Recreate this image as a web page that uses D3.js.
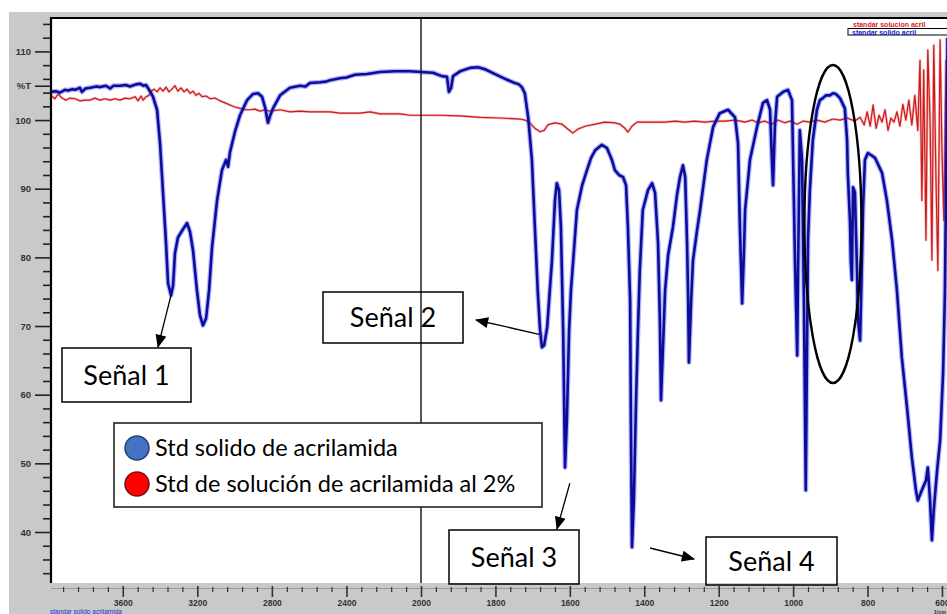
<!DOCTYPE html>
<html>
<head>
<meta charset="utf-8">
<script src="https://cdn.jsdelivr.net/npm/d3@7/dist/d3.min.js"></script>
<style>
  html, body { margin: 0; padding: 0; background: #fff; }
  svg { display: block; }
  .tick text { font-family: "Liberation Sans Narrow", "Liberation Sans", Arial, sans-serif; font-weight: bold; }
</style>
</head>
<body>
<svg id="chart" width="947" height="614"></svg>
<script>
// FTIR spectra: wavenumber (1/cm) against transmittance (%T)
const seriesNames = ["Std solido de acrilamida", "Std de solución de acrilamida al 2%"];
const seriesColors = ["#4472c4", "#ff0000"];

// Solid acrylamide standard: [wavenumber, %T]
const solidSpectrum = [
  [3985,104.1],[3960,104.2],[3937,104.0],[3910,104.4],[3894,104.3],[3870,104.5],[3856,104.4],
  [3830,104.7],[3819,104.1],[3800,104.6],[3776,104.7],[3740,104.9],[3722,104.8],[3690,105.0],
  [3668,104.6],[3650,105.0],[3615,105.0],[3583,105.1],[3561,104.9],[3529,105.2],[3508,105.3],
  [3490,105.0],[3475,105.1],[3454,104.2],[3438,103.4],[3416,101.5],[3400,96.6],[3384,89.4],
  [3368,82.1],[3357,76.2],[3341,74.5],[3330,75.9],[3320,80.6],[3304,82.9],[3277,84.1],
  [3255,85.0],[3239,83.7],[3223,81.0],[3202,75.2],[3186,71.6],[3170,70.1],[3153,71.1],
  [3137,75.2],[3121,81.5],[3094,88.3],[3068,92.7],[3046,94.2],[3035,93.2],[3025,95.3],
  [2998,98.3],[2971,100.7],[2933,102.9],[2901,103.8],[2874,103.9],[2853,103.4],[2837,101.9],
  [2821,99.6],[2810,100.6],[2794,101.7],[2756,103.6],[2703,104.7],[2649,105.0],[2620,104.9],
  [2596,105.4],[2542,105.5],[2510,105.6],[2488,105.8],[2435,106.1],[2400,106.2],[2354,106.6],
  [2290,106.7],[2220,107.0],[2139,107.1],[2059,107.1],[2000,107.0],[1968,106.9],[1944,106.4],
  [1930,106.3],[1925,104.1],[1919,104.7],[1914,106.4],[1895,107.1],[1868,107.6],[1847,107.7],
  [1828,107.4],[1801,106.7],[1774,106.0],[1753,105.5],[1737,105.2],[1729,104.8],[1721,103.9],
  [1712,100.4],[1702,94.2],[1694,84.4],[1686,74.8],[1680,69.4],[1675,66.9],[1669,67.2],
  [1661,69.8],[1648,79.6],[1640,88.3],[1635,90.8],[1629,89.8],[1624,84.4],[1618,69.4],
  [1613,49.4],[1608,56.3],[1602,69.4],[1597,75.2],[1589,81.0],[1581,86.9],[1567,90.5],
  [1554,92.7],[1543,94.5],[1532,95.6],[1514,96.4],[1500,95.9],[1487,94.2],[1479,92.7],
  [1468,92.0],[1457,91.7],[1449,90.5],[1444,84.4],[1438,73.8],[1436,56.3],[1433,37.8],
  [1428,44.6],[1422,59.2],[1417,69.4],[1412,78.1],[1404,86.9],[1390,89.8],[1379,90.8],
  [1371,89.4],[1363,82.1],[1358,70.8],[1355,59.2],[1350,66.5],[1344,75.2],[1336,80.3],
  [1323,84.4],[1312,89.1],[1304,91.7],[1296,93.4],[1290,91.7],[1285,82.1],[1282,73.8],
  [1280,64.7],[1274,73.8],[1269,79.6],[1258,84.0],[1250,86.9],[1232,94.2],[1215,99.0],
  [1197,101.0],[1175,101.5],[1156,100.4],[1148,96.6],[1143,84.4],[1137,73.3],[1132,81.0],
  [1129,86.9],[1116,94.2],[1097,99.0],[1081,102.5],[1070,102.9],[1062,101.5],[1057,94.2],
  [1054,90.5],[1049,99.0],[1043,103.4],[1027,104.1],[1014,104.4],[1003,102.9],[1000,94.2],
  [995,79.6],[989,65.7],[987,76.7],[982,98.5],[976,94.2],[971,73.8],[966,46.1],[960,82.5],
  [955,89.8],[947,97.1],[936,101.5],[928,102.9],[920,103.2],[912,103.6],[901,103.6],
  [893,103.9],[885,103.8],[874,103.2],[861,101.7],[855,97.1],[853,92.3],[847,85.0],
  [845,79.6],[842,76.7],[839,90.2],[834,89.5],[828,77.7],[826,71.1],[820,67.9],[815,79.6],
  [812,87.3],[807,94.2],[799,95.2],[788,94.8],[780,94.5],[761,92.3],[748,88.3],[734,82.5],
  [721,75.2],[708,65.5],[694,58.2],[681,50.9],[670,46.1],[665,44.6],[654,46.1],[643,47.5],
  [638,49.4],[632,44.6],[627,38.8],[622,43.2],[613,49.0],[605,53.3],[597,63.1],[592,75.0],
  [588,95.0],[585,112.0]
];

// 2 % acrylamide solution standard: [wavenumber, %T]
const solutionSpectrum = [
  [3985,103.6],[3964,103.1],[3947,103.8],[3926,103.2],[3905,102.9],[3883,103.2],[3856,103.1],
  [3829,102.8],[3803,102.9],[3776,102.9],[3749,103.2],[3722,102.9],[3695,103.1],[3668,102.9],
  [3642,103.1],[3615,102.9],[3588,103.2],[3561,103.1],[3534,103.4],[3518,102.8],[3502,103.5],
  [3491,102.9],[3475,103.4],[3459,103.6],[3448,104.2],[3432,104.5],[3416,104.1],[3400,104.7],
  [3384,104.2],[3368,104.8],[3352,104.1],[3336,104.5],[3320,105.0],[3304,104.2],[3288,104.7],
  [3271,104.1],[3255,104.5],[3239,103.9],[3223,104.2],[3207,103.6],[3191,103.9],[3175,103.4],
  [3153,103.5],[3132,103.1],[3105,103.2],[3078,102.8],[3051,102.5],[3025,102.2],[2998,101.9],
  [2971,101.7],[2944,101.5],[2917,101.5],[2891,101.6],[2864,101.3],[2837,101.5],[2810,101.3],
  [2756,101.5],[2703,101.2],[2649,101.3],[2596,101.2],[2542,101.2],[2488,101.2],[2435,101.0],
  [2381,101.0],[2327,101.0],[2274,101.2],[2220,100.9],[2166,100.9],[2113,100.9],[2059,100.7],
  [2005,100.7],[1949,100.7],[1895,100.6],[1841,100.4],[1788,100.3],[1734,100.15],[1721,100.0],
  [1707,99.6],[1694,98.8],[1680,98.3],[1669,98.5],[1659,99.3],[1640,99.6],[1621,99.4],
  [1608,98.8],[1592,98.1],[1578,98.7],[1559,99.1],[1532,99.4],[1506,99.7],[1479,99.6],
  [1465,99.4],[1452,98.8],[1444,98.25],[1433,99.1],[1420,99.7],[1398,99.7],[1371,99.7],
  [1344,99.7],[1317,99.85],[1291,99.7],[1264,99.85],[1237,99.7],[1210,99.85],[1183,99.85],
  [1156,100.0],[1129,99.7],[1111,100.0],[1094,99.6],[1076,99.85],[1057,99.4],[1041,100.0],
  [1022,99.6],[1008,99.85],[989,99.4],[973,99.85],[955,99.7],[936,100.0],[915,99.7],
  [893,100.15],[874,100.0],[855,100.3],[834,99.85],[820,100.4],[809,99.3],[801,101.2],
  [793,99.1],[785,102.2],[777,98.8],[769,100.7],[761,99.7],[753,101.5],[745,98.5],[737,100.3],
  [729,99.7],[721,101.2],[713,99.1],[705,102.3],[697,100.0],[689,102.9],[681,99.3],[673,103.6],
  [665,98.5],[659,108.7],[654,88.3],[649,107.3],[643,82.5],[638,110.2],[632,100.0],[627,79.6],
  [622,110.9],[616,91.2],[611,78.1],[605,111.7],[600,95.6],[595,85.4],[589,108.7],[584,102.9]
];

const yTicks = [40, 50, 60, 70, 80, 90, 100, 110];
const yMinorTicks = d3.range(34, 115, 2).filter(v => v % 10 !== 0);
const yUnitLabel = "%T";
const yUnitAt = 105;
const xTicks = [3600, 3200, 2800, 2400, 2000, 1800, 1600, 1400, 1200, 1000, 800, 600];
const xMinorTicks = d3.range(3920, 2000, -80).concat(d3.range(1960, 580, -40))
  .filter(v => !xTicks.includes(v));
const signalLabels = ["Señal 1", "Señal 2", "Señal 3", "Señal 4"];

const svg = d3.select("#chart");
const W = 947, H = 614;
const plot = { left: 51, top: 18, right: 951, bottom: 583 };

// Wavenumber axis is expanded 2x below 2000 1/cm
const x = d3.scaleLinear().domain([3985, 2000, 580]).range([51, 421, 949.4]);
const y = d3.scaleLinear().domain([40, 110]).range([532, 51.4]);

// Grey instrument frame and white plotting area
svg.append("rect").attr("x", 0).attr("y", 0).attr("width", W).attr("height", H).attr("fill", "#fff");
svg.append("rect").attr("x", 9).attr("y", 12).attr("width", W - 9).attr("height", H - 12).attr("fill", "#c9c9c9");
svg.append("rect").attr("x", plot.left).attr("y", plot.top)
  .attr("width", plot.right - plot.left).attr("height", plot.bottom - plot.top).attr("fill", "#fff");

svg.append("defs").append("clipPath").attr("id", "plotClip")
  .append("rect").attr("x", plot.left).attr("y", plot.top)
  .attr("width", plot.right - plot.left).attr("height", plot.bottom - plot.top);

// Left axis (%T)
const yAxisG = svg.append("g").attr("transform", `translate(${plot.left},0)`);
yAxisG.call(d3.axisLeft(y).tickValues(yMinorTicks).tickSize(8).tickFormat(""))
  .call(g => g.select(".domain").remove())
  .call(g => g.selectAll("line").attr("stroke", "#222").attr("stroke-width", 1.6));
const yMajor = svg.append("g").attr("transform", `translate(${plot.left},0)`)
  .call(d3.axisLeft(y).tickValues(yTicks.concat([yUnitAt])).tickSize(16).tickPadding(4)
    .tickFormat(d => d === yUnitAt ? yUnitLabel : String(d)));
yMajor.select(".domain").remove();
yMajor.selectAll("line").attr("stroke", "#222").attr("stroke-width", 1.6);
yMajor.selectAll("text").attr("font-size", 9.5).attr("fill", "#333");

// Bottom axis (1/cm)
const xAxisY = 587;
svg.append("line").attr("x1", plot.left).attr("x2", W).attr("y1", xAxisY + 1.5).attr("y2", xAxisY + 1.5)
  .attr("stroke", "#9a9a9a").attr("stroke-width", 1);
const xMinor = svg.append("g").attr("transform", `translate(0,${xAxisY})`)
  .call(d3.axisBottom(x).tickValues(xMinorTicks).tickSize(5).tickFormat(""));
xMinor.select(".domain").remove();
xMinor.selectAll("line").attr("stroke", "#333").attr("stroke-width", 1.2);
const xMajor = svg.append("g").attr("transform", `translate(0,${xAxisY - 1})`)
  .call(d3.axisBottom(x).tickValues(xTicks).tickSize(11).tickPadding(3).tickFormat(d => String(d)));
xMajor.select(".domain").remove();
xMajor.selectAll("line").attr("stroke", "#333").attr("stroke-width", 1.6);
xMajor.selectAll("text").attr("font-size", 8.5).attr("fill", "#333");

svg.append("text").attr("x", x(600) - 2).attr("y", 614).attr("text-anchor", "middle")
  .attr("font-family", "Liberation Sans, Arial, sans-serif").attr("font-size", 5.5).attr("font-weight", "bold")
  .attr("fill", "#333").text("1/cm");
svg.append("text").attr("x", 50).attr("y", 614)
  .attr("font-family", "Liberation Sans, Arial, sans-serif").attr("font-size", 6.5)
  .attr("fill", "#2233cc").text("standar solido acrilamida");

// Spectra
const line = d3.line().x(d => x(d[0])).y(d => y(d[1]));
const curves = svg.append("g").attr("clip-path", "url(#plotClip)");

curves.append("path").datum(solutionSpectrum).attr("d", line)
  .attr("fill", "none").attr("stroke", "#f08080").attr("stroke-width", 2.6)
  .attr("stroke-opacity", 0.55).attr("stroke-linejoin", "round");
curves.append("path").datum(solutionSpectrum).attr("d", line)
  .attr("fill", "none").attr("stroke", "#cc1a1a").attr("stroke-width", 1.2)
  .attr("stroke-linejoin", "round");

curves.append("path").datum(solidSpectrum).attr("d", line)
  .attr("fill", "none").attr("stroke", "#3b4cff").attr("stroke-width", 5)
  .attr("stroke-opacity", 0.4).attr("stroke-linejoin", "round");
curves.append("path").datum(solidSpectrum).attr("d", line)
  .attr("fill", "none").attr("stroke", "#0c0c98").attr("stroke-width", 2.6)
  .attr("stroke-linejoin", "round");

// 2000 1/cm scale-change line
svg.append("line").attr("x1", x(2000)).attr("x2", x(2000)).attr("y1", plot.top).attr("y2", plot.bottom)
  .attr("stroke", "#111").attr("stroke-width", 1.4);

// Plot frame (left and top edges)
svg.append("line").attr("x1", plot.left).attr("x2", plot.left).attr("y1", plot.top - 1).attr("y2", plot.bottom)
  .attr("stroke", "#000").attr("stroke-width", 2.2);
svg.append("line").attr("x1", plot.left - 1).attr("x2", W).attr("y1", plot.top).attr("y2", plot.top)
  .attr("stroke", "#000").attr("stroke-width", 2.2);

// Instrument's small series key (top right)
const key = svg.append("g").attr("font-family", "Liberation Sans, Arial, sans-serif")
  .attr("font-size", 7).attr("font-weight", "bold");
key.append("text").attr("x", 853).attr("y", 27).attr("fill", "#dd2020").text("standar solucion acril");
key.append("rect").attr("x", 848).attr("y", 28.5).attr("width", 110).attr("height", 6.5)
  .attr("fill", "#fff").attr("stroke", "#000").attr("stroke-width", 1);
key.append("text").attr("x", 852).attr("y", 34.5).attr("fill", "#1a1acc").text("standar solido acril");

// Arrow marker
svg.select("defs").append("marker").attr("id", "arrowHead")
  .attr("viewBox", "0 0 12 10").attr("refX", 11).attr("refY", 5)
  .attr("markerWidth", 14).attr("markerHeight", 11).attr("markerUnits", "userSpaceOnUse")
  .attr("orient", "auto")
  .append("path").attr("d", "M0,0 L12,5 L0,10 Z").attr("fill", "#000");

// Signal callouts: label box + arrow from band
const callouts = [
  { label: signalLabels[0], box: [62, 348, 129, 54], from: [x(3341), y(74.5)], to: [158, 347] },
  { label: signalLabels[1], box: [323, 292, 140, 51], from: [x(1680) - 1, y(68.8)], to: [476, 320] },
  { label: signalLabels[2], box: [449, 530, 130, 54], from: [x(1600), y(47.1)], to: [557, 529] },
  { label: signalLabels[3], box: [706, 537, 131, 48], from: [650, 548], to: [694, 559] }
];
const cg = svg.append("g");
callouts.forEach(c => {
  const [bx, by, bw, bh] = c.box;
  cg.append("rect").attr("x", bx).attr("y", by).attr("width", bw).attr("height", bh)
    .attr("fill", "none").attr("stroke", "#000").attr("stroke-width", 1.5);
  cg.append("text").attr("x", bx + bw / 2).attr("y", by + bh / 2 + 9.5)
    .attr("text-anchor", "middle").attr("font-family", "Lato, 'Open Sans', sans-serif")
    .attr("font-size", 27).attr("fill", "#000").text(c.label);
  cg.append("line").attr("x1", c.from[0]).attr("y1", c.from[1]).attr("x2", c.to[0]).attr("y2", c.to[1])
    .attr("stroke", "#000").attr("stroke-width", 1.3).attr("marker-end", "url(#arrowHead)");
});

// Ellipse around the 930-850 1/cm region
svg.append("ellipse").attr("cx", x(893)).attr("cy", 224).attr("rx", 28.5).attr("ry", 159)
  .attr("fill", "none").attr("stroke", "#000").attr("stroke-width", 2.4);

// Legend
const lg = svg.append("g");
lg.append("rect").attr("x", 114).attr("y", 423).attr("width", 428).attr("height", 84)
  .attr("fill", "#fff").attr("stroke", "#222").attr("stroke-width", 1.6);
seriesNames.forEach((name, i) => {
  const cy = 448 + i * 36;
  lg.append("circle").attr("cx", 137).attr("cy", cy).attr("r", 12)
    .attr("fill", seriesColors[i]).attr("stroke", i === 0 ? "#2c3e6e" : "#7a0f0f").attr("stroke-width", 1.5);
  lg.append("text").attr("x", 155).attr("y", cy + 8)
    .attr("font-family", "Lato, 'Open Sans', sans-serif").attr("font-size", 23.5)
    .attr("fill", "#000").text(name);
});
</script>
</body>
</html>
